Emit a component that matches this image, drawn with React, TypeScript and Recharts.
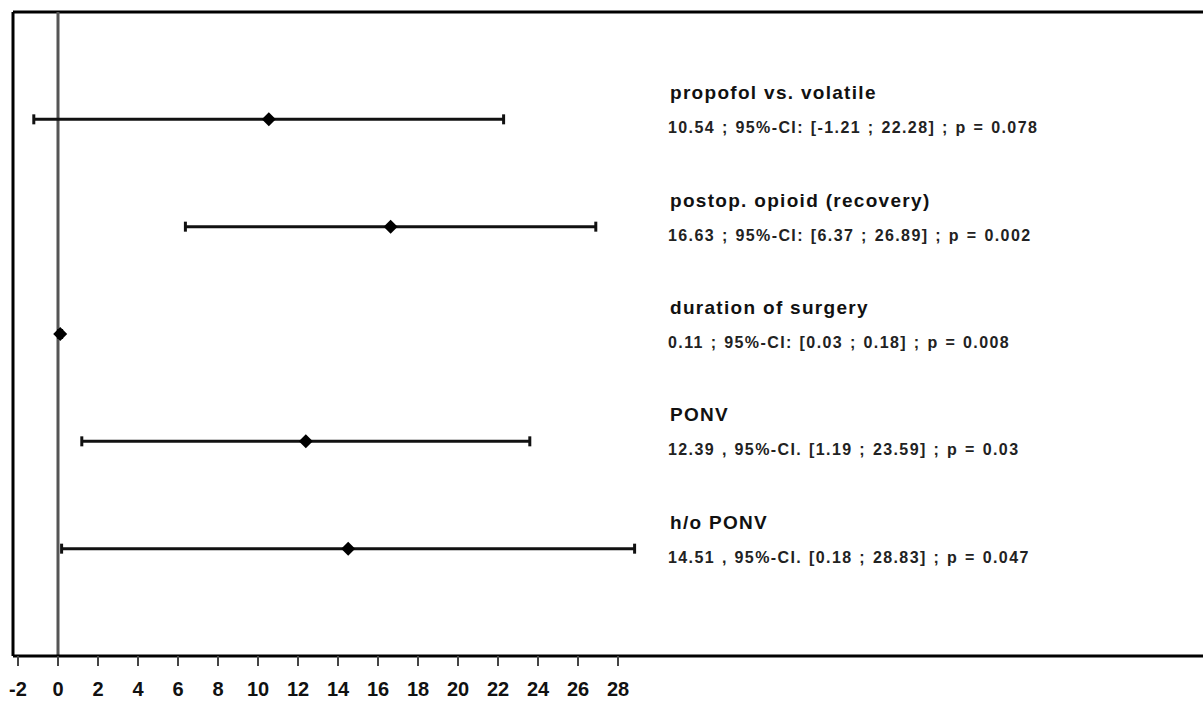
import React from 'react';
import {
  ScatterChart,
  Scatter,
  XAxis,
  YAxis,
  ErrorBar,
  ReferenceLine,
} from 'recharts';

const labels = [
  'propofol vs. volatile',
  'postop. opioid (recovery)',
  'duration of surgery',
  'PONV',
  'h/o PONV',
];
const estimates = [10.54, 16.63, 0.11, 12.39, 14.51];
const lower = [-1.21, 6.37, 0.03, 1.19, 0.18];
const upper = [22.28, 26.89, 0.18, 23.59, 28.83];
const pValues = ['0.078', '0.002', '0.008', '0.03', '0.047'];
const separators = [';', ';', ';', ',', ','];
const ciMarks = ['95%-CI:', '95%-CI:', '95%-CI:', '95%-CI.', '95%-CI.'];
const xTicks = [-2, 0, 2, 4, 6, 8, 10, 12, 14, 16, 18, 20, 22, 24, 26, 28];

const FONT = '"Liberation Sans", Arial, sans-serif';
const TEXT_X = 668;

const data = labels.map((name, i) => ({
  name,
  x: estimates[i],
  y: i + 1,
  err: [estimates[i] - lower[i], upper[i] - estimates[i]],
  stat: `${estimates[i].toFixed(2)} ${separators[i]} ${ciMarks[i]} [${lower[i].toFixed(2)} ; ${upper[i].toFixed(2)}] ; p = ${pValues[i]}`,
}));

// diamond marker plus the two text lines for each row
const RowShape = (props: any) => {
  const { cx, cy, payload } = props;
  const r = 7;
  return (
    <g>
      <path
        d={`M${cx},${cy - r} L${cx + r},${cy} L${cx},${cy + r} L${cx - r},${cy} Z`}
        fill="#000"
      />
      <text
        x={TEXT_X + 2}
        y={cy - 20}
        fontFamily={FONT}
        fontWeight="bold"
        fontSize={19}
        letterSpacing={1.3}
        fill="#111"
      >
        {payload.name}
      </text>
      <text
        x={TEXT_X}
        y={cy + 14}
        fontFamily={FONT}
        fontWeight="bold"
        fontSize={16}
        letterSpacing={1.4}
        wordSpacing={1}
        fill="#222"
      >
        {payload.stat}
      </text>
    </g>
  );
};

const App: React.FC = () => {
  return (
    <div style={{ position: 'absolute', left: 0, top: 0, background: '#fff' }}>
      <ScatterChart
        width={1220}
        height={710}
        margin={{ top: 12, right: 0, left: 0, bottom: 0 }}
      >
        <XAxis
          type="number"
          dataKey="x"
          domain={[-2.25, 58.1]}
          ticks={xTicks}
          allowDataOverflow
          interval={0}
          height={54}
          axisLine={{ stroke: '#000', strokeWidth: 3 }}
          tickLine={{ stroke: '#444', strokeWidth: 2 }}
          tickSize={10}
          tickMargin={16}
          tick={{ fill: '#111', fontSize: 20, fontWeight: 'bold', fontFamily: FONT }}
        />
        <YAxis
          type="number"
          dataKey="y"
          domain={[0, 6]}
          reversed
          width={13}
          tick={false}
          tickLine={false}
          axisLine={{ stroke: '#000', strokeWidth: 3 }}
        />
        <ReferenceLine y={0} stroke="#000" strokeWidth={3} />
        <ReferenceLine x={0} stroke="#555" strokeWidth={3} />
        <Scatter data={data} shape={RowShape} isAnimationActive={false}>
          <ErrorBar
            dataKey="err"
            direction="x"
            width={5}
            stroke="#111"
            strokeWidth={3}
            isAnimationActive={false}
          />
        </Scatter>
      </ScatterChart>
    </div>
  );
};

export default App;
